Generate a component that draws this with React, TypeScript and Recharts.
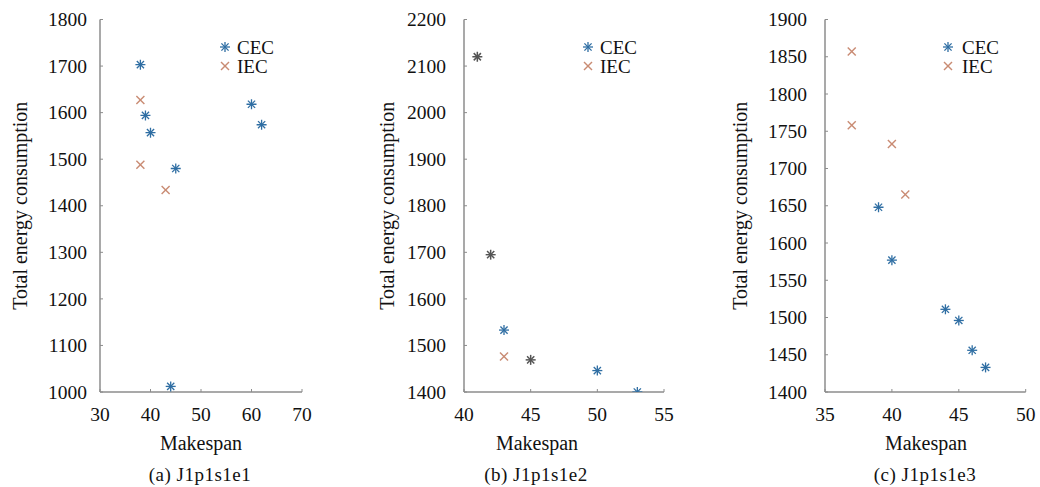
import React from 'react';
import { ScatterChart, Scatter, XAxis, YAxis, Legend, Label } from 'recharts';

const FONT = '"Liberation Serif", "Times New Roman", serif';
const CEC_COLOR = '#2f6ea3';
const IEC_COLOR = '#c98b73';
const SHARED_COLOR = '#555555';
const AXIS_COLOR = '#8c8c8c';

const seriesNames = ['CEC', 'IEC'];
const xLabel = 'Makespan';
const yLabel = 'Total energy consumption';

// Panel (a) J1p1s1e1
const cecA = [
  { x: 38, y: 1703 }, { x: 39, y: 1594 }, { x: 40, y: 1557 }, { x: 45, y: 1480 },
  { x: 60, y: 1618 }, { x: 62, y: 1574 }, { x: 44, y: 1012 },
];
const iecA = [{ x: 38, y: 1627 }, { x: 38, y: 1488 }, { x: 43, y: 1434 }];
const sharedA: { x: number; y: number }[] = [];
const xTicksA = [30, 40, 50, 60, 70];
const yTicksA = [1000, 1100, 1200, 1300, 1400, 1500, 1600, 1700, 1800];

// Panel (b) J1p1s1e2
const cecB = [{ x: 43, y: 1533 }, { x: 50, y: 1446 }, { x: 53, y: 1400 }];
const iecB = [{ x: 43, y: 1476 }];
const sharedB = [{ x: 41, y: 2120 }, { x: 42, y: 1695 }, { x: 45, y: 1469 }];
const xTicksB = [40, 45, 50, 55];
const yTicksB = [1400, 1500, 1600, 1700, 1800, 1900, 2000, 2100, 2200];

// Panel (c) J1p1s1e3
const cecC = [
  { x: 39, y: 1648 }, { x: 40, y: 1577 }, { x: 44, y: 1511 }, { x: 45, y: 1496 },
  { x: 46, y: 1456 }, { x: 47, y: 1433 },
];
const iecC = [{ x: 37, y: 1857 }, { x: 37, y: 1758 }, { x: 40, y: 1733 }, { x: 41, y: 1665 }];
const sharedC: { x: number; y: number }[] = [];
const xTicksC = [35, 40, 45, 50];
const yTicksC = [1400, 1450, 1500, 1550, 1600, 1650, 1700, 1750, 1800, 1850, 1900];

const captions = ['(a) J1p1s1e1', '(b) J1p1s1e2', '(c) J1p1s1e3'];

const asteriskShape = (color: string, w = 1.3) => (props: any) => {
  const { cx, cy } = props;
  const r = 5;
  const d = 3.6;
  return (
    <g stroke={color} strokeWidth={w}>
      <line x1={cx - r} y1={cy} x2={cx + r} y2={cy} />
      <line x1={cx} y1={cy - r} x2={cx} y2={cy + r} />
      <line x1={cx - d} y1={cy - d} x2={cx + d} y2={cy + d} />
      <line x1={cx - d} y1={cy + d} x2={cx + d} y2={cy - d} />
    </g>
  );
};

const crossShape = (color: string) => (props: any) => {
  const { cx, cy } = props;
  const d = 4;
  return (
    <g stroke={color} strokeWidth={1.4}>
      <line x1={cx - d} y1={cy - d} x2={cx + d} y2={cy + d} />
      <line x1={cx - d} y1={cy + d} x2={cx + d} y2={cy - d} />
    </g>
  );
};

const H = 487;
const PLOT_TOP = 19.5;
const PLOT_BOTTOM = 392;

type Panel = {
  left: number;
  width: number;
  plotLeft: number;
  plotRight: number;
  cec: { x: number; y: number }[];
  iec: { x: number; y: number }[];
  shared: { x: number; y: number }[];
  xTicks: number[];
  yTicks: number[];
  yTickGap: number;
  yLabelX: number;
  xLabelX: number;
  legendLeft: number;
  legendGap: number;
  captionX: number;
  caption: string;
};

const panels: Panel[] = [
  {
    left: 0, width: 340, plotLeft: 100, plotRight: 302,
    cec: cecA, iec: iecA, shared: sharedA, xTicks: xTicksA, yTicks: yTicksA,
    yTickGap: 13, yLabelX: 20, xLabelX: 201, legendLeft: 219, legendGap: 6,
    captionX: 200, caption: captions[0],
  },
  {
    left: 340, width: 350, plotLeft: 124, plotRight: 324,
    cec: cecB, iec: iecB, shared: sharedB, xTicks: xTicksB, yTicks: yTicksB,
    yTickGap: 18, yLabelX: 47, xLabelX: 197, legendLeft: 242, legendGap: 6,
    captionX: 196, caption: captions[1],
  },
  {
    left: 690, width: 350, plotLeft: 135, plotRight: 335.7,
    cec: cecC, iec: iecC, shared: sharedC, xTicks: xTicksC, yTicks: yTicksC,
    yTickGap: 18, yLabelX: 50, xLabelX: 236, legendLeft: 252, legendGap: 8,
    captionX: 235, caption: captions[2],
  },
];

const TICK_FONT_SIZE = 19.5;

const makeYTick = (axisX: number, gap: number) => (props: any) => {
  const { y, payload } = props;
  return (
    <g>
      <line x1={axisX} y1={y} x2={axisX + 3} y2={y} stroke={AXIS_COLOR} strokeWidth={1} />
      <text
        x={axisX - gap}
        y={y}
        dy="0.34em"
        textAnchor="end"
        fontFamily={FONT}
        fontSize={TICK_FONT_SIZE}
        fill="#111"
      >
        {payload.value}
      </text>
    </g>
  );
};

const makeXTick = (axisY: number) => (props: any) => {
  const { x, payload } = props;
  return (
    <g>
      <line x1={x} y1={axisY} x2={x} y2={axisY - 3} stroke={AXIS_COLOR} strokeWidth={1} />
      <text x={x} y={axisY + 29} textAnchor="middle" fontFamily={FONT} fontSize={TICK_FONT_SIZE} fill="#111">
        {payload.value}
      </text>
    </g>
  );
};

const LegendBox = ({ gap }: { gap: number }) => (
  <div style={{ fontFamily: FONT, fontSize: 19, color: '#111' }}>
    {seriesNames.map((name, i) => (
      <div key={name} style={{ display: 'flex', alignItems: 'center', height: 19, overflow: 'visible' }}>
        <svg width={12} height={12} style={{ marginRight: gap }}>
          {i === 0
            ? asteriskShape(CEC_COLOR)({ cx: 6, cy: 6 })
            : crossShape(IEC_COLOR)({ cx: 6, cy: 6 })}
        </svg>
        <span style={{ display: 'inline-block', height: 19, lineHeight: '19px', overflow: 'visible' }}>{name}</span>
      </div>
    ))}
  </div>
);

const PanelChart = ({ p }: { p: Panel }) => {
  const xMin = p.xTicks[0];
  const xMax = p.xTicks[p.xTicks.length - 1];
  const yMin = p.yTicks[0];
  const yMax = p.yTicks[p.yTicks.length - 1];
  const xAxisHeight = 60;
  const plotMidY = (PLOT_TOP + PLOT_BOTTOM) / 2;
  return (
    <div style={{ position: 'absolute', left: p.left, top: 0, width: p.width, height: H }}>
      <ScatterChart
        width={p.width}
        height={H}
        margin={{ top: PLOT_TOP, right: p.width - p.plotRight, left: 0, bottom: H - PLOT_BOTTOM - xAxisHeight }}
      >
        <XAxis
          type="number"
          dataKey="x"
          domain={[xMin, xMax]}
          ticks={p.xTicks}
          allowDataOverflow
          height={xAxisHeight}
          stroke={AXIS_COLOR}
          strokeWidth={1.5}
          tickLine={false}
          tick={makeXTick(PLOT_BOTTOM)}
        >
          <Label
            content={() => (
              <text x={p.xLabelX} y={450} textAnchor="middle" fontFamily={FONT} fontSize={20} fill="#111">
                {xLabel}
              </text>
            )}
          />
        </XAxis>
        <YAxis
          type="number"
          dataKey="y"
          domain={[yMin, yMax]}
          ticks={p.yTicks}
          allowDataOverflow
          width={p.plotLeft}
          stroke={AXIS_COLOR}
          strokeWidth={1.5}
          tickLine={false}
          tick={makeYTick(p.plotLeft, p.yTickGap)}
        >
          <Label
            content={() => (
              <text
                x={p.yLabelX}
                y={plotMidY}
                transform={`rotate(-90 ${p.yLabelX} ${plotMidY})`}
                textAnchor="middle"
                dominantBaseline="central"
                fontFamily={FONT}
                fontSize={20}
                fill="#111"
              >
                {yLabel}
              </text>
            )}
          />
        </YAxis>
        <Legend
          layout="vertical"
          align="center"
          verticalAlign="middle"
          wrapperStyle={{ left: p.legendLeft, top: 37.5, width: 'auto' }}
          content={() => <LegendBox gap={p.legendGap} />}
        />
        <Scatter name="CEC" data={p.cec} isAnimationActive={false} shape={asteriskShape(CEC_COLOR)} fill={CEC_COLOR} />
        <Scatter name="IEC" data={p.iec} isAnimationActive={false} shape={crossShape(IEC_COLOR)} fill={IEC_COLOR} />
        <Scatter
          name="CEC & IEC"
          data={p.shared}
          isAnimationActive={false}
          shape={asteriskShape(SHARED_COLOR, 1.5)}
          fill={SHARED_COLOR}
          legendType="none"
        />
      </ScatterChart>
      <div
        style={{
          position: 'absolute',
          left: p.captionX - 100,
          width: 200,
          top: 465,
          textAlign: 'center',
          fontFamily: FONT,
          fontSize: 19,
          lineHeight: '20px',
          letterSpacing: 0.5,
          color: '#111',
        }}
      >
        {p.caption}
      </div>
    </div>
  );
};

export default function App() {
  return (
    <div style={{ position: 'absolute', left: 0, top: 0, width: 1040, height: H, background: '#fff', overflow: 'hidden' }}>
      {panels.map((p) => (
        <PanelChart key={p.caption} p={p} />
      ))}
    </div>
  );
}
